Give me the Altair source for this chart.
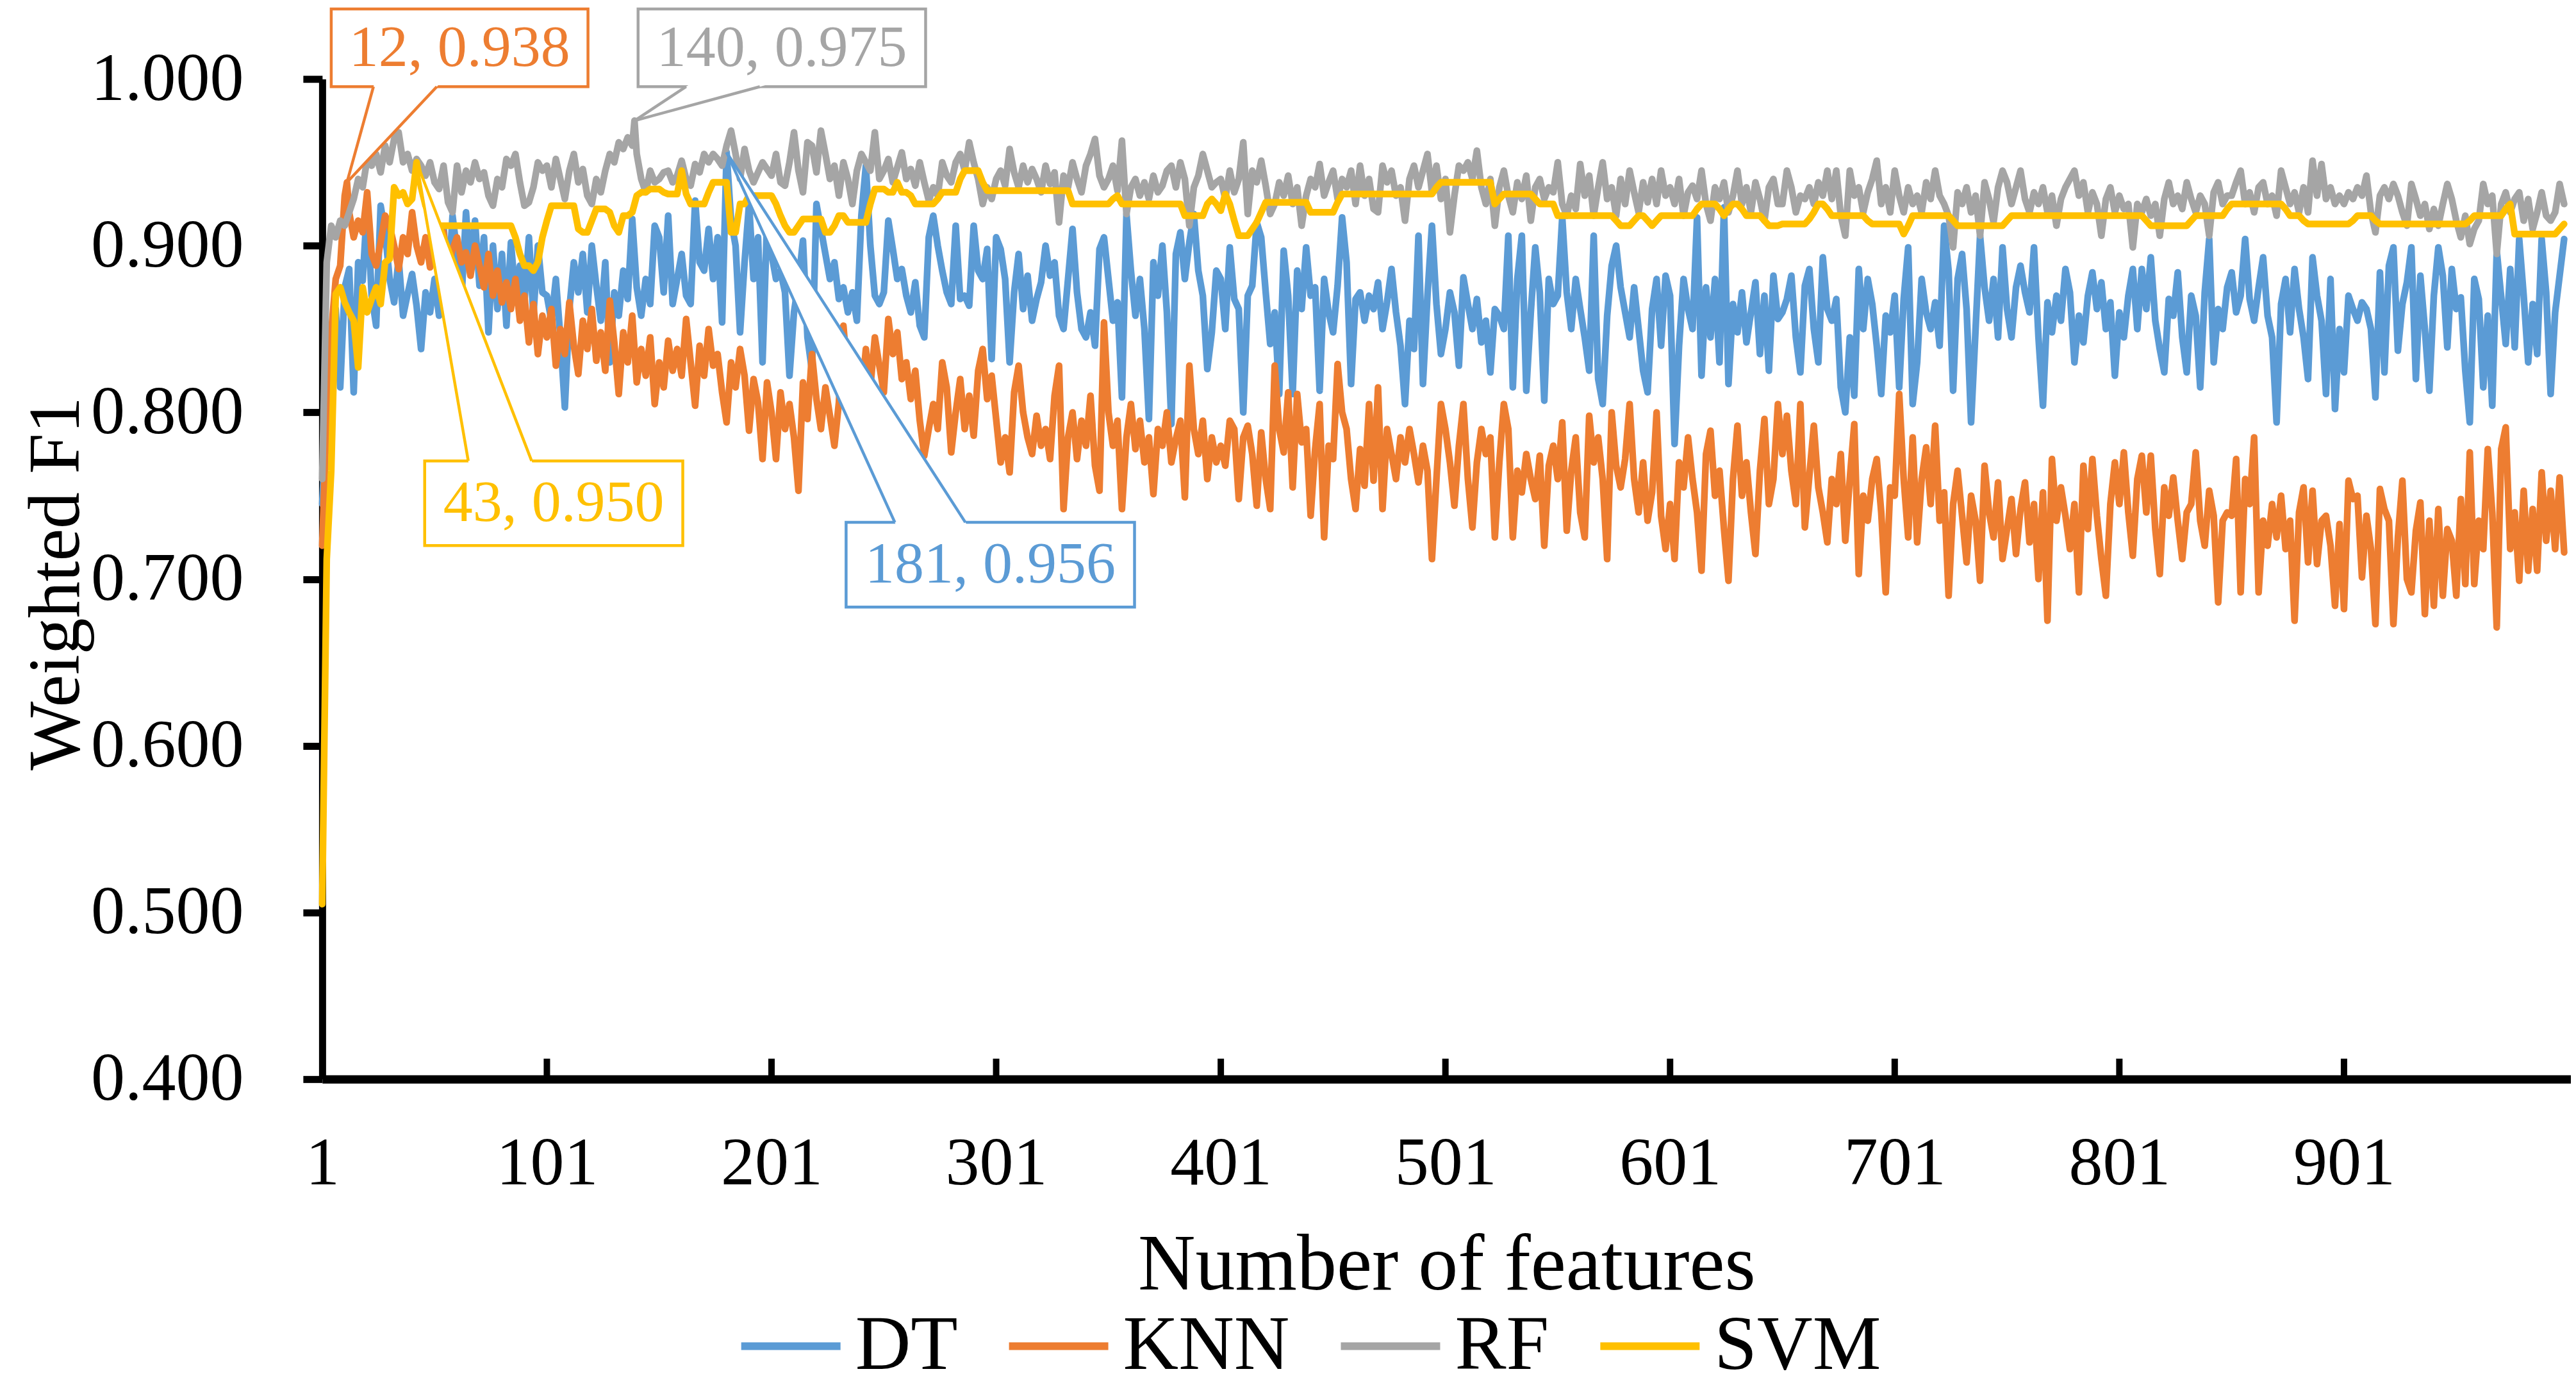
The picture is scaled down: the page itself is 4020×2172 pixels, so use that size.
import altair as alt
import pandas as pd

FONT = "Liberation Serif"
SERIES = ["DT", "KNN", "RF", "SVM"]
COLORS = ["#5B9BD5", "#ED7D31", "#A5A5A5", "#FFC000"]
X_TICKS = [1, 101, 201, 301, 401, 501, 601, 701, 801, 901]
Y_TICKS = [0.4, 0.5, 0.6, 0.7, 0.8, 0.9, 1.0]

# number of features: 1, 3, 5, ..., 999 ; F1 values in thousandths
FEATURES = list(range(1, 1000, 2))

DT_F1 = [
    745, 800, 840, 862, 815, 875, 886, 812, 890, 879, 925, 870, 852, 924, 908, 880, 866, 892, 858, 871, 883, 864, 838, 872, 860,
    880, 858, 912, 872, 918, 896, 868, 920, 884, 915, 876, 905, 848, 900, 862, 895, 852, 902, 870, 888, 866, 905, 858, 900, 872,
    870, 855, 880, 845, 803, 862, 890, 872, 895, 860, 900, 876, 855, 890, 830, 872, 858, 885, 868, 916, 875, 858, 880, 865, 912,
    905, 872, 918, 865, 880, 895, 870, 865, 927, 890, 885, 910, 880, 905, 854, 956, 915, 900, 848, 890, 925, 880, 905, 830, 915,
    895, 880, 885, 872, 822, 860, 878, 903, 845, 825, 925, 910, 895, 880, 890, 868, 875, 860, 872, 855, 918, 948, 900, 870, 865,
    872, 915, 898, 880, 886, 870, 860, 878, 852, 845, 905, 918, 900, 885, 872, 865, 912, 868, 870, 864, 912, 885, 880, 898, 832,
    905, 898, 880, 830, 872, 895, 862, 882, 855, 868, 878, 900, 882, 890, 858, 850, 880, 910, 872, 850, 845, 860, 840, 898, 905,
    880, 855, 866, 809, 919, 885, 858, 880, 850, 796, 890, 870, 900, 860, 793, 895, 908, 880, 902, 919, 885, 870, 826, 848, 885,
    880, 850, 899, 868, 862, 800, 870, 876, 914, 905, 872, 841, 860, 811, 897, 870, 811, 885, 862, 899, 870, 875, 813, 880, 860,
    848, 876, 917, 890, 817, 868, 872, 855, 870, 862, 878, 850, 866, 886, 860, 840, 805, 855, 838, 906, 817, 870, 912, 865, 835,
    850, 872, 860, 828, 881, 865, 850, 868, 842, 855, 824, 862, 858, 850, 906, 815, 880, 906, 813, 860, 899, 872, 807, 880, 865,
    870, 917, 872, 850, 880, 862, 845, 825, 906, 820, 805, 858, 888, 900, 875, 860, 845, 875, 850, 825, 812, 862, 880, 840, 882,
    870, 781, 840, 880, 862, 850, 917, 822, 875, 845, 880, 830, 923, 817, 865, 848, 872, 842, 860, 878, 835, 870, 825, 882, 856,
    860, 868, 882, 845, 824, 876, 886, 850, 830, 893, 862, 855, 868, 815, 800, 845, 810, 886, 850, 880, 865, 840, 811, 858, 848,
    870, 815, 868, 899, 805, 830, 880, 860, 850, 866, 840, 912, 885, 813, 880, 895, 862, 794, 850, 906, 875, 855, 880, 845, 899,
    862, 845, 875, 888, 872, 860, 899, 845, 804, 866, 848, 870, 855, 886, 872, 830, 858, 842, 870, 884, 862, 878, 850, 866, 822,
    860, 845, 870, 886, 850, 886, 862, 893, 855, 838, 824, 868, 858, 884, 845, 824, 870, 858, 815, 872, 904, 830, 862, 850, 875,
    884, 860, 870, 904, 868, 855, 875, 893, 858, 845, 794, 865, 880, 848, 886, 862, 845, 820, 893, 870, 855, 811, 880, 802, 850,
    824, 870, 862, 855, 866, 862, 850, 809, 884, 824, 888, 899, 837, 865, 878, 899, 820, 882, 850, 813, 870, 899, 882, 839, 886,
    862, 869, 825, 794, 880, 868, 815, 858, 804, 897, 869, 841, 886, 839, 904, 870, 830, 865, 835, 904, 872, 811, 860, 882, 904,
]

KNN_F1 = [
    720, 800, 848, 880, 888, 930, 920, 905, 915, 908, 932, 895, 888, 902, 918, 912, 900, 886, 905, 895, 920, 900, 890, 905, 887,
    900, 892, 908, 885, 898, 905, 890, 896, 882, 900, 888, 875, 895, 870, 885, 866, 878, 862, 880, 855, 870, 842, 865, 835, 858,
    845, 862, 828, 850, 835, 866, 840, 823, 855, 838, 862, 831, 848, 825, 867, 842, 811, 848, 830, 858, 818, 838, 822, 845, 805,
    830, 815, 843, 825, 838, 822, 856, 830, 804, 840, 822, 850, 828, 835, 812, 794, 830, 815, 838, 822, 789, 820, 806, 772, 818,
    800, 772, 812, 790, 805, 785, 753, 818, 796, 835, 808, 790, 815, 798, 780, 806, 852, 820, 800, 825, 808, 838, 815, 845, 828,
    812, 856, 835, 848, 820, 830, 808, 825, 795, 774, 790, 805, 790, 830, 815, 776, 800, 820, 790, 810, 786, 825, 838, 808, 822,
    796, 770, 785, 764, 812, 828, 800, 785, 775, 798, 780, 790, 772, 810, 828, 742, 785, 800, 772, 795, 780, 810, 768, 753, 854,
    800, 780, 795, 742, 785, 805, 778, 795, 770, 785, 751, 790, 780, 800, 770, 784, 795, 749, 828, 790, 775, 795, 760, 785, 770,
    780, 768, 795, 790, 748, 785, 792, 775, 744, 788, 760, 742, 828, 790, 776, 812, 755, 811, 782, 790, 738, 778, 805, 725, 780,
    772, 829, 800, 790, 760, 742, 778, 756, 805, 759, 815, 742, 790, 775, 760, 785, 770, 790, 775, 758, 780, 765, 712, 760, 805,
    790, 770, 744, 780, 805, 760, 731, 770, 790, 775, 785, 725, 770, 805, 790, 725, 765, 752, 775, 760, 748, 774, 720, 768, 780,
    760, 794, 729, 765, 785, 740, 725, 798, 770, 785, 760, 712, 800, 768, 755, 772, 805, 760, 740, 770, 735, 752, 800, 738, 718,
    745, 712, 770, 755, 785, 760, 740, 705, 775, 789, 750, 765, 730, 699, 760, 792, 750, 770, 740, 715, 765, 796, 745, 760, 805,
    775, 798, 765, 745, 805, 731, 762, 792, 755, 740, 722, 760, 745, 775, 723, 760, 793, 703, 750, 735, 760, 772, 740, 692, 755,
    750, 811, 760, 725, 785, 722, 760, 779, 745, 792, 735, 752, 690, 745, 765, 738, 710, 750, 735, 699, 768, 740, 725, 758, 712,
    730, 748, 715, 742, 758, 722, 745, 700, 752, 675, 772, 735, 755, 738, 718, 745, 692, 768, 730, 772, 738, 712, 690, 745, 770,
    745, 776, 740, 714, 760, 774, 740, 774, 730, 703, 755, 738, 761, 735, 712, 740, 745, 776, 735, 720, 753, 738, 686, 735, 740,
    738, 772, 692, 760, 745, 785, 692, 735, 720, 745, 725, 750, 718, 735, 675, 740, 755, 710, 753, 709, 735, 738, 720, 684, 733,
    682, 759, 748, 750, 701, 738, 718, 673, 754, 742, 735, 673, 725, 759, 700, 692, 729, 746, 679, 735, 684, 742, 690, 730, 723,
    690, 748, 697, 776, 697, 735, 718, 778, 740, 671, 778, 791, 718, 740, 699, 753, 705, 742, 705, 764, 723, 753, 718, 761, 716,
]

RF_F1 = [
    760, 890, 912, 905, 915, 912, 920, 928, 940, 935, 952, 948, 955, 944, 960, 950, 964, 968, 950, 955, 945, 952, 948, 942, 950,
    938, 934, 948, 926, 920, 948, 932, 945, 938, 950, 940, 944, 930, 924, 940, 935, 952, 948, 955, 938, 924, 926, 935, 950, 945,
    948, 935, 952, 940, 928, 945, 955, 938, 946, 930, 925, 940, 932, 945, 955, 950, 962, 958, 965, 960, 955, 940, 932, 945, 938,
    940, 944, 945, 938, 942, 951, 940, 936, 949, 944, 955, 950, 955, 952, 948, 960, 969, 955, 940, 958, 945, 938, 944, 950, 946,
    942, 955, 938, 936, 950, 968, 945, 932, 962, 960, 944, 969, 955, 940, 948, 930, 950, 940, 925, 945, 955, 950, 945, 968, 940,
    945, 952, 938, 947, 956, 940, 946, 936, 950, 938, 927, 935, 930, 950, 942, 938, 950, 955, 945, 962, 950, 940, 925, 935, 928,
    940, 945, 936, 958, 944, 935, 948, 938, 946, 940, 932, 948, 937, 944, 914, 942, 935, 950, 940, 932, 948, 955, 964, 942, 935,
    940, 948, 933, 963, 919, 935, 940, 930, 938, 928, 942, 932, 936, 945, 948, 935, 950, 940, 912, 935, 942, 955, 945, 935, 938,
    940, 928, 945, 932, 940, 962, 919, 945, 938, 951, 936, 919, 925, 938, 930, 942, 925, 935, 912, 930, 940, 935, 949, 930, 938,
    945, 928, 940, 935, 945, 925, 948, 930, 940, 922, 920, 948, 938, 945, 930, 935, 915, 940, 948, 935, 945, 955, 932, 948, 928,
    940, 908, 930, 948, 945, 950, 940, 957, 935, 925, 940, 912, 935, 945, 930, 920, 938, 928, 942, 915, 935, 940, 928, 935, 932,
    950, 925, 918, 930, 922, 949, 930, 942, 918, 935, 950, 928, 935, 918, 940, 925, 945, 932, 920, 938, 926, 940, 925, 945, 930,
    935, 925, 940, 918, 932, 936, 928, 945, 925, 915, 935, 928, 938, 920, 930, 945, 925, 935, 920, 938, 928, 915, 935, 940, 925,
    925, 945, 935, 920, 930, 928, 935, 925, 938, 930, 945, 928, 945, 918, 906, 945, 930, 935, 920, 932, 940, 951, 925, 935, 920,
    945, 930, 920, 935, 925, 930, 920, 938, 928, 945, 930, 925, 918, 899, 932, 925, 935, 920, 930, 906, 938, 928, 914, 935, 945,
    938, 925, 935, 945, 928, 920, 932, 925, 935, 920, 930, 912, 928, 935, 940, 945, 930, 938, 920, 932, 925, 906, 928, 935, 920,
    930, 922, 925, 899, 925, 920, 928, 918, 925, 906, 928, 938, 925, 930, 922, 938, 928, 920, 930, 925, 906, 932, 938, 925, 930,
    930, 938, 945, 925, 932, 920, 935, 938, 925, 930, 918, 945, 935, 925, 932, 920, 935, 920, 951, 930, 949, 928, 935, 925, 930,
    925, 932, 928, 935, 930, 942, 920, 908, 930, 935, 928, 937, 930, 920, 912, 937, 928, 918, 925, 910, 922, 912, 925, 937, 928,
    915, 905, 918, 901, 910, 915, 937, 925, 930, 895, 925, 932, 920, 928, 932, 915, 928, 910, 920, 932, 918, 915, 920, 937, 925,
]

SVM_F1 = [
    505, 712, 765, 871, 875, 866, 860, 855, 827, 875, 860, 868, 875, 865, 890, 892, 935, 930, 932, 925, 928, 950, 935, 924, 918,
    912, 912, 912, 912, 912, 912, 912, 912, 912, 912, 912, 912, 912, 912, 912, 912, 912, 912, 905, 895, 888, 888, 885, 890, 905,
    915, 924, 924, 924, 924, 924, 924, 910, 908, 908, 915, 922, 922, 922, 920, 912, 908, 918, 918, 920, 930, 932, 932, 934, 934,
    934, 932, 931, 931, 931, 945, 931, 925, 925, 925, 925, 932, 938, 938, 938, 938, 908, 908, 925, 925, 930, 930, 930, 930, 930,
    930, 925, 918, 912, 908, 908, 912, 916, 916, 916, 916, 916, 908, 908, 912, 918, 918, 914, 914, 914, 914, 914, 925, 934, 934,
    934, 932, 932, 938, 932, 932, 930, 925, 925, 925, 925, 925, 928, 932, 932, 932, 932, 940, 945, 945, 945, 945, 938, 933, 933,
    933, 933, 933, 933, 933, 933, 933, 933, 933, 933, 933, 933, 933, 933, 933, 933, 933, 925, 925, 925, 925, 925, 925, 925, 925,
    925, 928, 930, 925, 925, 925, 925, 925, 925, 925, 925, 925, 925, 925, 925, 925, 925, 918, 918, 918, 918, 918, 925, 928, 925,
    921, 931, 925, 915, 906, 906, 906, 910, 914, 920, 926, 926, 926, 926, 926, 926, 926, 926, 926, 926, 920, 920, 920, 920, 920,
    920, 926, 931, 931, 931, 931, 931, 931, 931, 931, 931, 931, 931, 931, 931, 931, 931, 931, 931, 931, 931, 931, 931, 935, 938,
    938, 938, 938, 938, 938, 938, 938, 938, 938, 938, 938, 925, 928, 931, 931, 931, 931, 931, 931, 931, 928, 925, 925, 925, 925,
    918, 918, 918, 918, 918, 918, 918, 918, 918, 918, 918, 918, 918, 915, 912, 912, 912, 915, 918, 918, 915, 912, 915, 918, 918,
    918, 918, 918, 918, 918, 918, 922, 925, 925, 925, 925, 922, 918, 922, 925, 925, 922, 918, 918, 918, 918, 915, 912, 912, 912,
    913, 913, 913, 913, 913, 913, 916, 920, 925, 925, 922, 918, 918, 918, 918, 918, 918, 918, 918, 915, 913, 913, 913, 913, 913,
    913, 913, 907, 912, 918, 918, 918, 918, 918, 918, 918, 918, 918, 915, 912, 912, 912, 912, 912, 912, 912, 912, 912, 912, 912,
    915, 918, 918, 918, 918, 918, 918, 918, 918, 918, 918, 918, 918, 918, 918, 918, 918, 918, 918, 918, 918, 918, 918, 918, 918,
    918, 918, 918, 918, 918, 918, 915, 912, 912, 912, 912, 912, 912, 912, 912, 912, 915, 918, 918, 918, 918, 918, 918, 918, 922,
    925, 925, 925, 925, 925, 925, 925, 925, 925, 925, 925, 925, 922, 918, 918, 918, 915, 913, 913, 913, 913, 913, 913, 913, 913,
    913, 913, 915, 918, 918, 918, 918, 915, 913, 913, 913, 913, 913, 913, 913, 913, 913, 913, 913, 913, 913, 913, 913, 913, 913,
    913, 913, 913, 915, 918, 918, 918, 918, 918, 918, 918, 922, 925, 907, 907, 907, 907, 907, 907, 907, 907, 907, 907, 910, 913,
]

# best-score callouts
CALLOUT_SERIES = ["KNN", "RF", "SVM", "DT"]
CALLOUT_X = [12, 140, 43, 181]
CALLOUT_Y = [0.938, 0.975, 0.950, 0.956]
CALLOUT_TEXT = ["12, 0.938", "140, 0.975", "43, 0.950", "181, 0.956"]
BOX_X1 = [5.0, 141.6, 46.6, 234.2]
BOX_X2 = [119.3, 269.6, 161.5, 362.6]
BOX_TOP = [1.042, 1.042, 0.7709, 0.7340]
BOX_BOTTOM = [0.9954, 0.9954, 0.7201, 0.6832]
WEDGE_X1 = [23.8, 163.0, 66.0, 255.9]
WEDGE_X2 = [52.0, 195.8, 94.2, 287.3]
WEDGE_EDGE = [0.9954, 0.9954, 0.7709, 0.7340]

# ---------------- tables ----------------
values = {"DT": DT_F1, "KNN": KNN_F1, "RF": RF_F1, "SVM": SVM_F1}
for s in SERIES:
    assert len(values[s]) == len(FEATURES), (s, len(values[s]))

color_of = dict(zip(SERIES, COLORS))
line_rows = []
for s in SERIES:
    pts = {f: v / 1000 for f, v in zip(FEATURES, values[s])}
    for cs, cx, cy in zip(CALLOUT_SERIES, CALLOUT_X, CALLOUT_Y):
        if cs == s:
            pts[cx] = cy
    for f in sorted(pts):
        line_rows.append({"series": s, "feature": f, "f1": pts[f]})
lines_df = pd.DataFrame(line_rows)

tick_df = pd.DataFrame({"feature": X_TICKS[1:], "f1": [Y_TICKS[0]] * (len(X_TICKS) - 1)})
tick_df["f1_2"] = tick_df["f1"] + 0.0123

box_df = pd.DataFrame({
    "cid": CALLOUT_SERIES, "feature": BOX_X1, "feature2": BOX_X2,
    "f1": BOX_TOP, "f1_2": BOX_BOTTOM,
    "hex": [color_of[s] for s in CALLOUT_SERIES],
    "label": CALLOUT_TEXT,
})
box_df["tx"] = (box_df["feature"] + box_df["feature2"]) / 2
box_df["ty"] = (box_df["f1"] + box_df["f1_2"]) / 2

wedge_rows, leader_rows = [], []
for i, s in enumerate(CALLOUT_SERIES):
    ax, ay = CALLOUT_X[i], CALLOUT_Y[i]
    ey = WEDGE_EDGE[i]
    t = 1 + 0.003 / abs(ey - ay)
    wedge_rows.append({"cid": s, "f1": ay, "feature": ax, "feature2": ax})
    wedge_rows.append({"cid": s, "f1": ay + (ey - ay) * t,
                       "feature": ax + (WEDGE_X1[i] - ax) * t,
                       "feature2": ax + (WEDGE_X2[i] - ax) * t})
    for bx in (WEDGE_X1[i], WEDGE_X2[i]):
        leader_rows.append({"cid": s, "feature": ax, "f1": ay, "feature2": bx, "f1_2": ey,
                            "hex": color_of[s]})
wedge_df = pd.DataFrame(wedge_rows)
leader_df = pd.DataFrame(leader_rows)

# ---------------- encodings ----------------
x_scale = alt.Scale(domain=[1, 1002], nice=False, zero=False)
y_scale = alt.Scale(domain=[0.4, 1.0], nice=False, zero=False)

x_axis = alt.Axis(
    values=X_TICKS, format="d", title="Number of features", grid=False,
    ticks=False, tickSize=0, domainColor="black", domainWidth=13,
    labelFont=FONT, labelFontSize=106, labelColor="black", labelPadding=80,
    labelFlush=False, labelOverlap=False, labelLimit=1000,
    titleFont=FONT, titleFontSize=124, titleFontWeight="normal", titleColor="black",
    titleX=1755, titleY=328, titleBaseline="alphabetic", titleAlign="center",
)
y_axis = alt.Axis(
    values=Y_TICKS, format=".3f", title="Weighted F1", grid=False,
    tickSize=30, tickWidth=11, tickColor="black", domainColor="black", domainWidth=11,
    labelFont=FONT, labelFontSize=106, labelColor="black", labelPadding=93,
    labelOverlap=False, labelFlush=False, labelLimit=1000,
    titleFont=FONT, titleFontSize=114, titleFontWeight="normal", titleColor="black",
    titleX=-380, titleY=787, titleBaseline="alphabetic", titleAlign="center", titleAngle=270,
    titleLimit=2000,
)
legend = alt.Legend(
    title=None, orient="none", legendX=648, legendY=1894, direction="horizontal",
    columns=4, symbolType="stroke", symbolSize=24025, symbolStrokeWidth=12,
    labelFont=FONT, labelFontSize=120, labelColor="black", labelOffset=17,
    columnPadding=56, labelLimit=2000, padding=0, rowPadding=0,
)
color_scale = alt.Scale(domain=SERIES, range=COLORS)


def X(field):
    return alt.X(field, scale=x_scale, axis=x_axis)


def Y(field):
    return alt.Y(field, scale=y_scale, axis=y_axis)


layers = []
for s in SERIES:
    layers.append(
        alt.Chart(lines_df[lines_df["series"] == s])
        .mark_line(strokeWidth=10.5, strokeJoin="round", strokeCap="round")
        .encode(
            x=X("feature:Q"),
            y=Y("f1:Q"),
            color=alt.Color("series:N", scale=color_scale, legend=legend),
        )
    )

ticks = alt.Chart(tick_df).mark_rule(color="black", strokeWidth=10).encode(
    x=X("feature:Q"), y=Y("f1:Q"), y2="f1_2:Q",
)
boxes = alt.Chart(box_df).mark_rect(fill="white", strokeWidth=4.5).encode(
    x=X("feature:Q"), x2="feature2:Q",
    y=Y("f1:Q"), y2="f1_2:Q",
    stroke=alt.Stroke("hex:N", scale=None),
)
wedges = alt.Chart(wedge_df).mark_area(orient="horizontal", color="white", opacity=1).encode(
    y=Y("f1:Q"), x=X("feature:Q"), x2="feature2:Q",
    detail="cid:N",
)
leaders = alt.Chart(leader_df).mark_rule(strokeWidth=4.5).encode(
    x=X("feature:Q"), x2="feature2:Q",
    y=Y("f1:Q"), y2="f1_2:Q",
    color=alt.Color("hex:N", scale=None),
)
texts = alt.Chart(box_df).mark_text(font=FONT, fontSize=92, align="center", baseline="middle").encode(
    x=X("tx:Q"), y=Y("ty:Q"),
    text="label:N",
    color=alt.Color("hex:N", scale=None),
)

chart = (
    alt.layer(*layers, ticks, boxes, wedges, leaders, texts)
    .properties(
        width=3510, height=1561,
        padding={"left": 495, "top": 115, "right": 0, "bottom": 488},
        autosize=alt.AutoSizeParams(type="none"),
    )
    .configure_view(stroke="transparent")
)

chart.save("out.html", embed_options={"renderer": "svg", "actions": False})
